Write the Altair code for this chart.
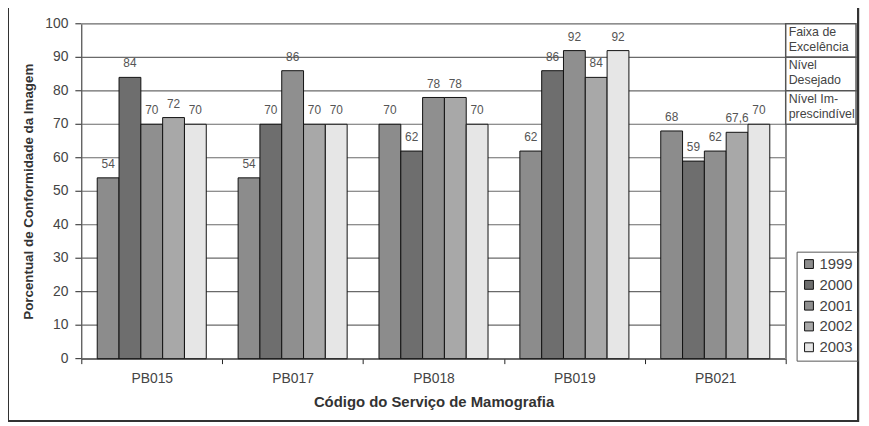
import altair as alt
import pandas as pd

sites = ["PB015", "PB017", "PB018", "PB019", "PB021"]
years = ["1999", "2000", "2001", "2002", "2003"]
v1999 = [54, 54, 70, 62, 68]
v2000 = [84, 70, 62, 86, 59]
v2001 = [70, 86, 78, 92, 62]
v2002 = [72, 70, 78, 84, 67.6]
v2003 = [70, 70, 70, 92, 70]
year_fills = ["#8c8c8c", "#6e6e6e", "#8f8f8f", "#a8a8a8", "#e6e6e6"]

band_lo = [90, 80, 70]
band_hi = [100, 90, 80]
band_labels = [["Faixa de", "Excelência"], ["Nível", "Desejado"], ["Nível Im-", "prescindível"]]
grid_ticks = list(range(0, 101, 10))

series = [v1999, v2000, v2001, v2002, v2003]
rows = []
for y, vals in zip(years, series):
    for s, v in zip(sites, vals):
        lab = (f"{v:g}").replace(".", ",")
        rows.append({"site": s, "year": y, "value": v, "label": lab})
df = pd.DataFrame(rows)
bands = pd.DataFrame({"lo": band_lo, "hi": band_hi, "text": band_labels})
grid = pd.DataFrame({"t": grid_ticks, "tl": [str(t) for t in grid_ticks]})

PW = 711  # plot width for bars
W = 782
H = 338
FONT = "Liberation Sans"

yscale = alt.Scale(domain=[0, 100], nice=False)
yaxis = alt.Axis(title="Porcentual de Conformidade da Imagem", labels=False, ticks=False,
                 grid=False, titleFontSize=13.5, titleColor="#333", titleFontWeight="bold",
                 titlePadding=46, domainColor="#222", titleFont=FONT)

gridlayer = alt.Chart(grid).mark_rule(color="#6a6a6a", strokeWidth=1.2).encode(
    y=alt.Y("t:Q", scale=yscale, axis=yaxis),
    x=alt.value(0), x2=alt.value(PW),
)
ytick = alt.Chart(grid).mark_rule(color="#222", strokeWidth=1).encode(
    y=alt.Y("t:Q", scale=yscale, axis=yaxis),
    x=alt.value(-6), x2=alt.value(0),
)
ylabels = alt.Chart(grid).mark_text(align="right", baseline="middle", fontSize=14,
                                    color="#444", font=FONT).encode(
    y=alt.Y("t:Q", scale=yscale, axis=yaxis),
    x=alt.value(-13), text="tl:N",
)

xs = alt.X("site:N", sort=sites,
           scale=alt.Scale(range=[0, PW], paddingInner=0, paddingOuter=0),
           axis=alt.Axis(title="Código do Serviço de Mamografia", labelAngle=0,
                         tickBand="extent", labelFontSize=14, labelColor="#444",
                         labelPadding=8, titleFontSize=15, titleColor="#333",
                         titleFontWeight="bold", titlePadding=9, domainColor="#222",
                         tickColor="#222", tickSize=5, labelFont=FONT, titleFont=FONT))
xo = alt.XOffset("year:N", sort=years, scale=alt.Scale(paddingOuter=0.73, paddingInner=0))

bars = alt.Chart(df).mark_bar(stroke="#111", strokeWidth=1).encode(
    x=xs, xOffset=xo,
    y=alt.Y("value:Q", scale=yscale, axis=yaxis),
    fill=alt.Fill("year:N", sort=years, scale=alt.Scale(domain=years, range=year_fills),
                  legend=alt.Legend(title=None, orient="none", legendX=722, legendY=230,
                                    strokeColor="#555", padding=5, labelFontSize=15,
                                    labelColor="#444", symbolType="square", symbolSize=80,
                                    symbolStrokeColor="#111", symbolStrokeWidth=1,
                                    rowPadding=5, labelFont=FONT, labelOffset=3)),
)

texts = alt.Chart(df).mark_text(dy=-7, fontSize=12, color="#555", font=FONT, baseline="bottom").encode(
    x=alt.X("site:N", sort=sites, scale=alt.Scale(range=[0, PW], paddingInner=0, paddingOuter=0)),
    xOffset=xo,
    y=alt.Y("value:Q", scale=yscale, axis=yaxis),
    text="label:N",
)

rightedge = alt.Chart(grid).mark_rule(color="#888", strokeWidth=1.2).encode(
    x=alt.value(PW), y=alt.value(0), y2=alt.value(H),
)

bandbox = alt.Chart(bands).mark_rect(fill="white", stroke="#555", strokeWidth=1.5).encode(
    x=alt.value(PW), x2=alt.value(W),
    y=alt.Y("hi:Q", scale=yscale, axis=yaxis), y2="lo:Q",
)
bandtext = alt.Chart(bands).mark_text(align="left", baseline="top", dx=3, dy=2, fontSize=12.5,
                                      color="#444", font=FONT, lineHeight=15).encode(
    x=alt.value(PW), y=alt.Y("hi:Q", scale=yscale, axis=yaxis), text="text",
)

frame = alt.Chart(grid).mark_rect(fill=None, stroke="#333", strokeWidth=2).encode(
    x=alt.value(-74), x2=alt.value(784), y=alt.value(-17), y2=alt.value(401),
)

chart = alt.layer(frame, gridlayer, ytick, ylabels, bars, texts, rightedge, bandbox, bandtext).properties(
    width=W, height=H,
    autosize=alt.AutoSizeParams(type="none"),
    padding={"left": 74, "top": 14, "right": 5, "bottom": 66},
    background="white",
).configure_view(stroke=None)

chart.save("out.html", embed_options={"renderer": "svg", "actions": False})
